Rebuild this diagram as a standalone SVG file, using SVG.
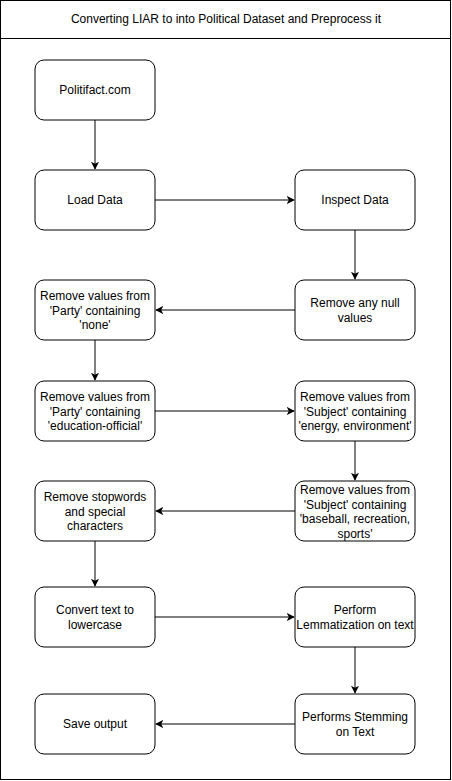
<svg xmlns="http://www.w3.org/2000/svg" width="452" height="781" viewBox="0 0 452 781">
<style>
.n{fill:#fff;stroke:#000;stroke-width:1}
.t{font-family:"Liberation Sans",Arial,sans-serif;font-size:12px;fill:#000;text-anchor:middle;dominant-baseline:central}
.c{fill:none;stroke:#000;stroke-width:1}
</style>
<defs>
<marker id="a" viewBox="0 0 10 10" refX="9" refY="5" markerWidth="8" markerHeight="8" markerUnits="userSpaceOnUse" orient="auto">
<path d="M0,0 L10,5 L0,10 L2.5,5 Z" fill="#000"/>
</marker>
</defs>
<rect x="0.5" y="0.5" width="450" height="779" fill="#fff" stroke="#000"/>
<line x1="0.5" y1="38.5" x2="450.5" y2="38.5" stroke="#000"/>
<text class="t" x="226" y="19">Converting LIAR to into Political Dataset and Preprocess it</text>
<g id="connectors">
<line class="c" x1="95" y1="120" x2="95" y2="169" marker-end="url(#a)"/>
<line class="c" x1="155" y1="200" x2="294" y2="200" marker-end="url(#a)"/>
<line class="c" x1="355" y1="230" x2="355" y2="279" marker-end="url(#a)"/>
<line class="c" x1="295" y1="310" x2="156" y2="310" marker-end="url(#a)"/>
<line class="c" x1="95" y1="340" x2="95" y2="380" marker-end="url(#a)"/>
<line class="c" x1="155" y1="411" x2="294" y2="411" marker-end="url(#a)"/>
<line class="c" x1="355" y1="441" x2="355" y2="480" marker-end="url(#a)"/>
<line class="c" x1="295" y1="511" x2="156" y2="511" marker-end="url(#a)"/>
<line class="c" x1="95" y1="541" x2="95" y2="586" marker-end="url(#a)"/>
<line class="c" x1="155" y1="617" x2="294" y2="617" marker-end="url(#a)"/>
<line class="c" x1="355" y1="647" x2="355" y2="693" marker-end="url(#a)"/>
<line class="c" x1="295" y1="724" x2="156" y2="724" marker-end="url(#a)"/>
</g>
<g id="n1"><rect class="n" x="35" y="60" width="120" height="60" rx="9"/><text class="t" x="95" y="90">Politifact.com</text></g>
<g id="n2"><rect class="n" x="35" y="170" width="120" height="60" rx="9"/><text class="t" x="95" y="200">Load Data</text></g>
<g id="n3"><rect class="n" x="295" y="170" width="120" height="60" rx="9"/><text class="t" x="355" y="200">Inspect Data</text></g>
<g id="n4"><rect class="n" x="295" y="280" width="120" height="60" rx="9"/><text class="t" x="355" y="303">Remove any null</text><text class="t" x="355" y="318">values</text></g>
<g id="n5"><rect class="n" x="35" y="280" width="120" height="60" rx="9"/><text class="t" x="95" y="296">Remove values from</text><text class="t" x="95" y="310.5">'Party' containing</text><text class="t" x="95" y="325">'none'</text></g>
<g id="n6"><rect class="n" x="35" y="381" width="120" height="60" rx="9"/><text class="t" x="95" y="397">Remove values from</text><text class="t" x="95" y="411.5">'Party' containing</text><text class="t" x="95" y="426">'education-official'</text></g>
<g id="n7"><rect class="n" x="295" y="381" width="120" height="60" rx="9"/><text class="t" x="355" y="397">Remove values from</text><text class="t" x="355" y="411.5">'Subject' containing</text><text class="t" x="355" y="426">'energy, environment'</text></g>
<g id="n8"><rect class="n" x="295" y="481" width="120" height="60" rx="9"/><text class="t" x="355" y="490">Remove values from</text><text class="t" x="355" y="504.5">'Subject' containing</text><text class="t" x="355" y="519">'baseball, recreation,</text><text class="t" x="355" y="533.5">sports'</text></g>
<g id="n9"><rect class="n" x="35" y="481" width="120" height="60" rx="9"/><text class="t" x="95" y="497">Remove stopwords</text><text class="t" x="95" y="511.5">and special</text><text class="t" x="95" y="526">characters</text></g>
<g id="n10"><rect class="n" x="35" y="587" width="120" height="60" rx="9"/><text class="t" x="95" y="610">Convert text to</text><text class="t" x="95" y="625">lowercase</text></g>
<g id="n11"><rect class="n" x="295" y="587" width="120" height="60" rx="9"/><text class="t" x="355" y="610">Perform</text><text class="t" x="355" y="625">Lemmatization on text</text></g>
<g id="n12"><rect class="n" x="295" y="694" width="120" height="60" rx="9"/><text class="t" x="355" y="717">Performs Stemming</text><text class="t" x="355" y="732">on Text</text></g>
<g id="n13"><rect class="n" x="35" y="694" width="120" height="60" rx="9"/><text class="t" x="95" y="724">Save output</text></g>
</svg>
